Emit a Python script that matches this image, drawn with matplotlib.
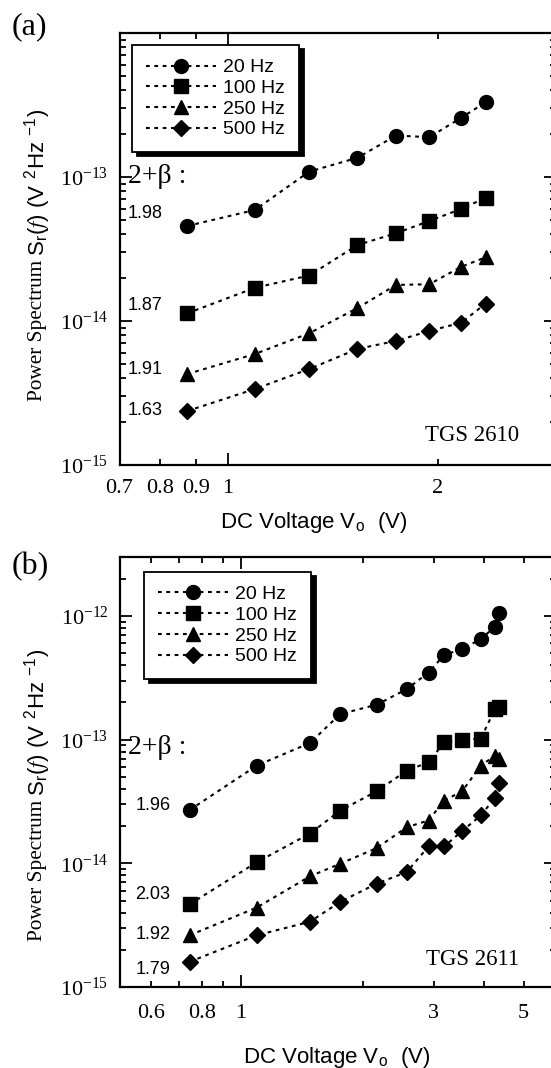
import numpy as np
import matplotlib
matplotlib.use('Agg')
import matplotlib.pyplot as plt
from matplotlib.ticker import FixedLocator, FuncFormatter, LogLocator, LogFormatterSciNotation, NullFormatter

plt.rcParams['font.family'] = 'Liberation Serif'
plt.rcParams['mathtext.fontset'] = 'stix'
plt.rcParams['axes.unicode_minus'] = False

SANS = 'Liberation Sans'
SERIF = 'Liberation Serif'

# (a) TGS 2610
volt_a = [0.875, 1.094, 1.309, 1.535, 1.743, 1.946, 2.161, 2.343]
a_20 = [4.57e-14, 5.9e-14, 1.09e-13, 1.36e-13, 1.94e-13, 1.89e-13, 2.58e-13, 3.30e-13]
a_100 = [1.13e-14, 1.70e-14, 2.07e-14, 3.37e-14, 4.07e-14, 4.95e-14, 6.0e-14, 7.18e-14]
a_250 = [4.28e-15, 5.9e-15, 8.22e-15, 1.23e-14, 1.78e-14, 1.80e-14, 2.38e-14, 2.77e-14]
a_500 = [2.37e-15, 3.37e-15, 4.64e-15, 6.4e-15, 7.27e-15, 8.53e-15, 9.73e-15, 1.32e-14]
expo_a = ['1.98', '1.87', '1.91', '1.63']

# (b) TGS 2611
volt_b = [0.746, 1.093, 1.48, 1.759, 2.167, 2.57, 2.91, 3.18, 3.52, 3.92, 4.25, 4.35]
b_20 = [2.70e-14, 6.17e-14, 9.4e-14, 1.61e-13, 1.92e-13, 2.56e-13, 3.49e-13, 4.84e-13,
        5.4e-13, 6.5e-13, 8.2e-13, 1.06e-12]
b_100 = [4.67e-15, 1.02e-14, 1.74e-14, 2.67e-14, 3.83e-14, 5.62e-14, 6.56e-14, 9.5e-14,
         9.94e-14, 1.02e-13, 1.77e-13, 1.85e-13]
b_250 = [2.62e-15, 4.39e-15, 7.85e-15, 9.93e-15, 1.33e-14, 1.96e-14, 2.22e-14, 3.22e-14,
         3.81e-14, 6.17e-14, 7.43e-14, 6.98e-14]
b_500 = [1.6e-15, 2.62e-15, 3.37e-15, 4.88e-15, 6.86e-15, 8.5e-15, 1.37e-14, 1.37e-14,
         1.82e-14, 2.44e-14, 3.39e-14, 4.44e-14]
expo_b = ['1.96', '2.03', '1.92', '1.79']

freqs = ['20 Hz', '100 Hz', '250 Hz', '500 Hz']
markers = ['o', 's', '^', 'D']
msizes = [10, 10, 10, 8]

W, H = 551, 1068
fig = plt.figure(figsize=(W / 100, H / 100), dpi=100)


def px_axes(left, top, right, bottom):
    return fig.add_axes([left / W, 1 - bottom / H, (right - left) / W, (bottom - top) / H])


def setup(ax, xlim, ylim, minor_x, minor_lab, yticks, xpad):
    ax.set_xscale('log')
    ax.set_yscale('log')
    ax.set_xlim(*xlim)
    ax.set_ylim(*ylim)
    ax.xaxis.set_major_locator(FixedLocator([1]))
    ax.xaxis.set_major_formatter(FuncFormatter(lambda v, p: '%g' % v))
    ax.xaxis.set_minor_locator(FixedLocator(minor_x))
    ax.xaxis.set_minor_formatter(FuncFormatter(lambda v, p: ('%g' % v) if any(abs(v - m) < 1e-6 for m in minor_lab) else ''))
    ax.yaxis.set_major_locator(FixedLocator(yticks))
    ax.yaxis.set_major_formatter(LogFormatterSciNotation())
    ax.yaxis.set_minor_locator(LogLocator(base=10, subs=np.arange(2, 10), numticks=10))
    ax.yaxis.set_minor_formatter(NullFormatter())
    ax.tick_params(which='both', direction='in', top=True, right=True, width=1.3, labelsize=16)
    ax.tick_params(which='major', length=8.5)
    ax.tick_params(which='minor', length=4.3)
    ax.tick_params(axis='x', which='both', pad=xpad)
    ax.tick_params(axis='y', which='both', pad=8)
    for s in ax.spines.values():
        s.set_linewidth(1.6)


def draw(ax, volt, series):
    for vals, lab, m, ms in zip(series, freqs, markers, msizes):
        ax.plot(volt, vals, color='black', marker=m, markersize=ms, lw=1.5,
                linestyle=(0, (1.8, 2.2)), label=lab)


def legend(ax, x, y):
    leg = ax.legend(loc='upper left', bbox_to_anchor=(x, y), borderaxespad=0,
                    fancybox=False,
                    shadow={'ox': 3.5, 'oy': -3, 'color': 'black', 'alpha': 1},
                    prop={'family': SANS, 'size': 14}, handlelength=3.6,
                    handletextpad=0.4, labelspacing=0.16, borderpad=0.7,
                    numpoints=1, framealpha=1)
    leg.get_frame().set_edgecolor('black')
    leg.get_frame().set_linewidth(1.3)


ax1 = px_axes(119.5, 33, 555.5, 465)
setup(ax1, (0.7, 2.95), (1e-15, 1e-12), [0.7, 0.8, 0.9, 2], [0.7, 0.8, 0.9, 2],
      [1e-15, 1e-14, 1e-13], 10)
draw(ax1, volt_a, [a_20, a_100, a_250, a_500])
legend(ax1, 0.0287, 0.972)
ax1.text(0.0195, 0.667, '2+β :', transform=ax1.transAxes, family=SERIF, size=20, va='center', ha='left')
for t, yy in zip(expo_a, [0.583, 0.370, 0.220, 0.127]):
    ax1.text(0.0195, yy, t, transform=ax1.transAxes, family=SANS, size=13, va='center', ha='left')
ax1.text(0.916, 0.069, 'TGS 2610', transform=ax1.transAxes, family=SERIF, size=16.5, va='center', ha='right')
ax1.set_xlabel('DC Voltage V$_{\\mathregular{o}}$  (V)', family=SANS, size=16, va='center')
ax1.xaxis.set_label_coords(0.446, -0.134)

ax2 = px_axes(119.5, 557, 555.5, 987)
setup(ax2, (0.5, 6.0), (1e-15, 3e-12), [0.5, 0.6, 0.7, 0.8, 0.9, 2, 3, 4, 5, 6], [0.6, 0.8, 3, 5],
      [1e-15, 1e-14, 1e-13, 1e-12], 12)
draw(ax2, volt_b, [b_20, b_100, b_250, b_500])
legend(ax2, 0.056, 0.965)
ax2.text(0.0195, 0.558, '2+β :', transform=ax2.transAxes, family=SERIF, size=20, va='center', ha='left')
for t, yy in zip(expo_b, [0.423, 0.214, 0.121, 0.040]):
    ax2.text(0.036, yy, t, transform=ax2.transAxes, family=SANS, size=13, va='center', ha='left')
ax2.text(0.916, 0.063, 'TGS 2611', transform=ax2.transAxes, family=SERIF, size=16.5, va='center', ha='right')
ax2.set_xlabel('DC Voltage V$_{\\mathregular{o}}$  (V)', family=SANS, size=16, va='center')
ax2.xaxis.set_label_coords(0.498, -0.163)

# y labels: serif part + sans part stacked along the rotated direction
for ybot in [1 - 401 / H, 1 - 941 / H]:
    t1 = fig.text(0.068, ybot, 'Power Spectrum', rotation=90, ha='center', va='bottom',
                  family=SERIF, size=15.3)
    fig.add_artist(plt.Annotation(
        'S$_{\\mathregular{r}}$($\\it{f}$) (V $^{\\mathregular{2}}$Hz $^{\\mathregular{-1}}$)',
        xy=(0.5, 1), xycoords=t1, xytext=(0, 3), textcoords='offset points',
        rotation=90, ha='center', va='bottom', family=SANS, size=16,
        annotation_clip=False))

fig.text(12 / W, 1 - 27 / H, '(a)', family=SERIF, size=23, ha='left', va='center')
fig.text(12 / W, 1 - 567 / H, '(b)', family=SERIF, size=23, ha='left', va='center')

fig.savefig('out.png', dpi=100)
